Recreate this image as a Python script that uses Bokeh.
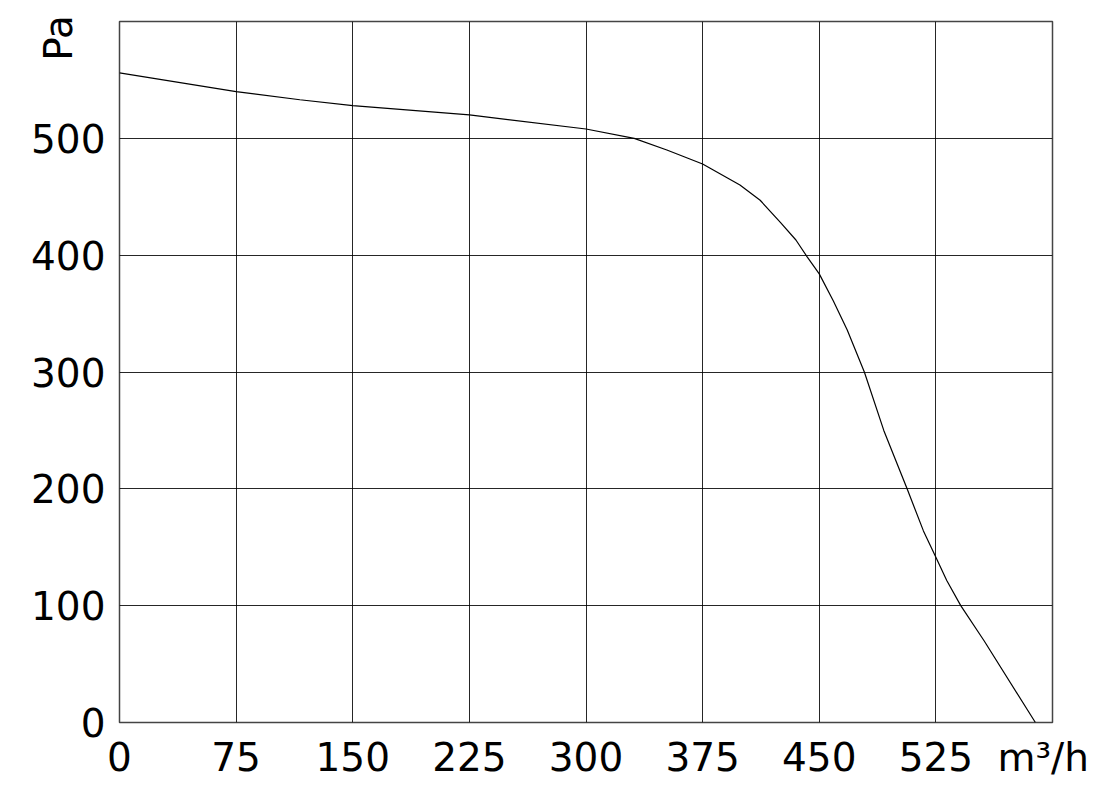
from bokeh.plotting import figure
from bokeh.models import Range1d, FixedTicker, LinearAxis
from bokeh.embed import file_html
from bokeh.resources import INLINE

# Fan curve: airflow (m3/h) vs static pressure (Pa)
flow = [0, 75, 116, 150, 225, 300, 331, 352, 375, 399, 412, 425, 435, 442, 450,
        459, 468, 479, 491.5, 506.5, 517, 525, 532, 541, 556, 589]
pressure = [556, 540, 533, 528, 520, 508, 500, 490, 478, 460, 447, 428, 413, 399, 384,
            361, 336, 300, 250, 200, 164, 141.5, 121.5, 100, 70, 0]

x_ticks = [0, 75, 150, 225, 300, 375, 450, 525]
y_ticks = [0, 100, 200, 300, 400, 500]
x_unit = "m³/h"
y_unit = "Pa"
x_unit_pos = 594
y_unit_pos = 586

FONT = "DejaVu Sans"
FS = "39px"

p = figure(width=1100, height=782, output_backend="svg", toolbar_location=None,
           x_range=Range1d(0, 600), y_range=Range1d(0, 600),
           min_border_left=119, min_border_right=48, min_border_top=21, min_border_bottom=60)

p.line(flow, pressure, line_color="black", line_width=1.2)

p.xaxis.ticker = FixedTicker(ticks=x_ticks + [x_unit_pos])
p.xaxis.major_label_overrides = {x_unit_pos: x_unit}
p.yaxis.ticker = FixedTicker(ticks=y_ticks)
p.xaxis.major_label_standoff = 12
p.yaxis.major_label_standoff = 14

unit_axis = LinearAxis(ticker=FixedTicker(ticks=[y_unit_pos]),
                       major_label_overrides={y_unit_pos: y_unit},
                       major_label_orientation="vertical",
                       major_label_standoff=-52)
p.add_layout(unit_axis, "left")

for ax in (p.xaxis[0], p.yaxis[0], unit_axis):
    ax.axis_line_color = None
    ax.major_tick_line_color = None
    ax.minor_tick_line_color = None
    ax.major_tick_out = 0
    ax.major_tick_in = 0
    ax.major_label_text_font = FONT
    ax.major_label_text_font_size = FS
    ax.major_label_text_color = "black"

p.xgrid.ticker = FixedTicker(ticks=x_ticks)
p.ygrid.ticker = FixedTicker(ticks=y_ticks)
for g in (p.xgrid[0], p.ygrid[0]):
    g.grid_line_color = "black"
    g.grid_line_alpha = 0.85
    g.grid_line_width = 1

p.outline_line_color = "#444444"
p.outline_line_width = 1.5
p.outline_line_alpha = 1.0

open("out.html", "w").write(file_html(p, INLINE))
